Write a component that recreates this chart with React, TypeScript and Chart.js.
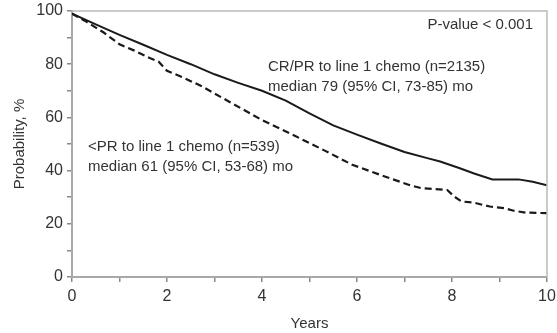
import React, { useEffect, useRef } from "react";
import { Chart, registerables } from "chart.js";

Chart.register(...registerables);

// Kaplan–Meier curves
const crprYears = [0, 0.5, 1, 1.5, 2, 2.5, 3, 3.5, 4, 4.5, 5, 5.5, 6, 6.5, 7, 7.5, 7.75, 8.15, 8.45, 8.85, 9.4, 9.7, 10];
const crprSurvival = [99, 95, 91, 87.3, 83.5, 80, 76.2, 73, 70, 66.3, 61.5, 57, 53.5, 50.2, 47, 44.6, 43.4, 41, 39, 36.7, 36.7, 35.8, 34.5];

const ltprYears = [0, 0.3, 0.66, 1.0, 1.3, 1.65, 1.82, 2.0, 2.3, 2.7, 3.3, 4.0, 4.7, 5.3, 5.9, 6.6, 7.1, 7.35, 7.9, 8.05, 8.2, 8.45, 8.65, 8.8, 9.1, 9.3, 9.55, 10];
const ltprSurvival = [99, 96, 92, 87.5, 85.2, 82.2, 81, 77.5, 75.3, 72, 66, 59, 53, 47.7, 42.2, 37.7, 34.6, 33.4, 32.7, 30.2, 28.4, 28, 27.1, 26.5, 25.9, 24.9, 24.2, 24];

const xTickLabels = ["0", "2", "4", "6", "8", "10"];
const yTickLabels = ["0", "20", "40", "60", "80", "100"];

const pValueText = "P-value < 0.001";
const crprLabel = ["CR/PR to line 1 chemo (n=2135)", "median 79 (95% CI, 73-85) mo"];
const ltprLabel = ["<PR to line 1 chemo (n=539)", "median 61 (95% CI, 53-68) mo"];

const FONT = "'Liberation Sans', Arial, sans-serif";
const TEXT = "#333333";
const AXIS = "#a8a8a8";

const framePlugin = {
  id: "frame",
  afterDatasetsDraw(chart: any) {
    const { ctx, chartArea } = chart;
    ctx.save();
    ctx.strokeStyle = "#bbbbbb";
    ctx.lineWidth = 1.5;
    ctx.beginPath();
    ctx.moveTo(chartArea.left, chartArea.top);
    ctx.lineTo(chartArea.right, chartArea.top);
    ctx.lineTo(chartArea.right, chartArea.bottom);
    ctx.stroke();

    ctx.fillStyle = TEXT;
    ctx.font = `15px ${FONT}`;
    ctx.textBaseline = "middle";
    ctx.textAlign = "right";
    ctx.fillText(pValueText, chartArea.right - 14, chartArea.top + 14);
    ctx.textAlign = "left";
    crprLabel.forEach((t, i) => ctx.fillText(t, 268, 67 + i * 20));
    ltprLabel.forEach((t, i) => ctx.fillText(t, 88, 147 + i * 20));
    ctx.restore();
  },
};

export default function App() {
  const ref = useRef<HTMLCanvasElement | null>(null);

  useEffect(() => {
    if (!ref.current) return;
    const chart = new Chart(ref.current, {
      type: "line",
      data: {
        datasets: [
          {
            label: "CR/PR",
            data: crprYears.map((x, i) => ({ x, y: crprSurvival[i] })),
            borderColor: "#1a1a1a",
            borderWidth: 2,
            pointRadius: 0,
            tension: 0,
            fill: false,
          },
          {
            label: "<PR",
            data: ltprYears.map((x, i) => ({ x, y: ltprSurvival[i] })),
            borderColor: "#1a1a1a",
            borderWidth: 2.2,
            borderDash: [7, 4],
            pointRadius: 0,
            tension: 0,
            fill: false,
          },
        ],
      },
      plugins: [framePlugin],
      options: {
        responsive: false,
        animation: false,
        layout: { padding: { top: 11, right: 10, left: 0, bottom: 0 } },
        plugins: { legend: { display: false }, tooltip: { enabled: false } },
        scales: {
          x: {
            type: "linear",
            min: 0,
            max: 10,
            afterFit: (s: any) => {
              s.height = 56;
              s.paddingLeft = 0;
              s.paddingRight = 0;
            },
            ticks: {
              stepSize: 1,
              autoSkip: false,
              maxRotation: 0,
              color: TEXT,
              font: { family: FONT, size: 16 },
              padding: 5,
              callback: (v: any) => (Number(v) % 2 === 0 ? xTickLabels[Number(v) / 2] : " "),
            },
            grid: { drawOnChartArea: false, drawTicks: true, tickLength: 5, color: "#888888", lineWidth: 1.5 },
            border: { display: true, color: AXIS, width: 2 },
            title: {
              display: true,
              text: "Years",
              color: TEXT,
              font: { family: FONT, size: 15 },
              padding: { top: 0, bottom: 0 },
            },
          },
          y: {
            min: 0,
            max: 100,
            afterFit: (s: any) => {
              s.width = 72;
              s.paddingTop = 0;
              s.paddingBottom = 0;
            },
            ticks: {
              stepSize: 10,
              autoSkip: false,
              color: TEXT,
              font: { family: FONT, size: 16 },
              padding: 4,
              callback: (v: any) => (Number(v) % 20 === 0 ? yTickLabels[Number(v) / 20] : " "),
            },
            grid: { drawOnChartArea: false, drawTicks: true, tickLength: 5, color: "#888888", lineWidth: 1.5 },
            border: { display: true, color: AXIS, width: 2 },
            title: {
              display: true,
              text: "Probability, %",
              color: TEXT,
              font: { family: FONT, size: 15 },
              padding: { top: 11, bottom: 0 },
            },
          },
        },
      },
    });
    return () => chart.destroy();
  }, []);

  return (
    <div style={{ position: "absolute", left: 0, top: 0, width: 557, height: 333, background: "#fff" }}>
      <canvas ref={ref} width={557} height={333} style={{ display: "block" }} />
    </div>
  );
}
